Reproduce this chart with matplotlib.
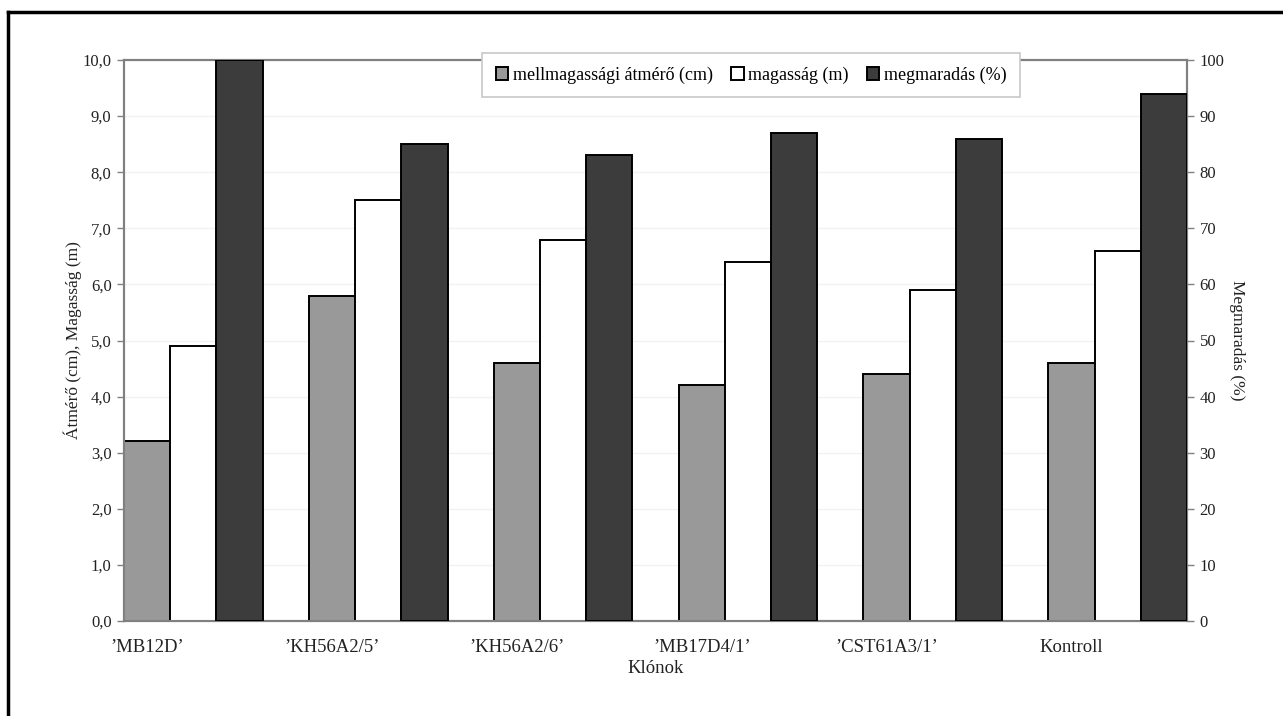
import matplotlib
matplotlib.use("Agg")
import matplotlib.pyplot as plt
from matplotlib.lines import Line2D
import numpy as np

categories = ["’MB12D’", "’KH56A2/5’", "’KH56A2/6’", "’MB17D4/1’", "’CST61A3/1’", "Kontroll"]
diameter = [3.2, 5.8, 4.6, 4.2, 4.4, 4.6]
height = [4.9, 7.5, 6.8, 6.4, 5.9, 6.6]
survival = [100, 85, 83, 87, 86, 94]
series_names = ["mellmagassági átmérő (cm)", "magasság (m)", "megmaradás (%)"]
left_ticks = [0, 1, 2, 3, 4, 5, 6, 7, 8, 9, 10]
right_ticks = [0, 10, 20, 30, 40, 50, 60, 70, 80, 90, 100]

plt.rcParams['font.family'] = ['Liberation Serif', 'DejaVu Serif']
FS_Y = 12
FS_X = 13.5
FS_LAB = 12.5
FS_LEG = 13
TXT = '#222222'
SPINE = '#808080'

fig = plt.figure(figsize=(12.83, 7.16), dpi=100)
ax = fig.add_axes([124/1283, 1 - 621/716, (1187-124)/1283, (621-60)/716])
ax2 = ax.twinx()

x = np.arange(len(categories))
w = 0.25
b1 = ax.bar(x, diameter, width=w, align='edge', color='#999999', edgecolor='black', linewidth=1.4, zorder=3)
b2 = ax.bar(x + w, height, width=w, align='edge', color='white', edgecolor='black', linewidth=1.4, zorder=3)
b3 = ax2.bar(x + 2*w, survival, width=w, align='edge', color='#3c3c3c', edgecolor='black', linewidth=1.4, zorder=3)

ax.set_xlim(0, len(categories) - 1 + 3*w)
ax.set_ylim(0, 10)
ax2.set_ylim(0, 100)
ax.set_yticks(left_ticks)
ax.set_yticklabels([f"{v:.1f}".replace('.', ',') for v in left_ticks], fontsize=FS_Y, color=TXT)
ax2.set_yticks(right_ticks)
ax2.set_yticklabels([str(v) for v in right_ticks], fontsize=FS_Y, color=TXT)
ax.set_xticks(x + w/2)
ax.set_xticklabels(categories, fontsize=FS_X, color=TXT)
ax.tick_params(axis='x', length=0, pad=13)
ax.tick_params(axis='y', length=5, width=1, color=SPINE, direction='out', pad=4)
ax2.tick_params(axis='y', length=5, width=1, color=SPINE, direction='out', pad=4)

for a in (ax, ax2):
    for s in a.spines.values():
        s.set_color(SPINE)
        s.set_linewidth(1.5)
ax.spines['bottom'].set_color('#555555')

ax.yaxis.grid(True, color='#f2f2f2', linewidth=1.0, zorder=0)
ax.set_axisbelow(True)

ax.set_xlabel("Klónok", fontsize=FS_X, color=TXT, labelpad=3)
ax.set_ylabel("Átmérő (cm), Magasság (m)", fontsize=FS_LAB, color=TXT, labelpad=0)
ax2.set_ylabel("Megmaradás (%)", fontsize=FS_LAB, color=TXT, rotation=270, labelpad=15)

leg = ax2.legend([b1, b2, b3], series_names, loc='center', bbox_to_anchor=(0.59, 0.973),
                 ncol=3, fontsize=FS_LEG, frameon=True, fancybox=False, framealpha=1,
                 edgecolor='#c8c8c8', handlelength=0.7, handleheight=0.7,
                 handletextpad=0.25, columnspacing=1.0, borderpad=0.75, borderaxespad=0)
leg.get_frame().set_linewidth(1.2)
leg.set_zorder(10)

# outer frame (top and left visible)
fig.add_artist(Line2D([8/1283, 8/1283], [0, 1 - 12/716], transform=fig.transFigure, color='black', linewidth=2.5))
fig.add_artist(Line2D([8/1283, 1], [1 - 12/716, 1 - 12/716], transform=fig.transFigure, color='black', linewidth=2.5))

fig.savefig("out.png", dpi=100)
